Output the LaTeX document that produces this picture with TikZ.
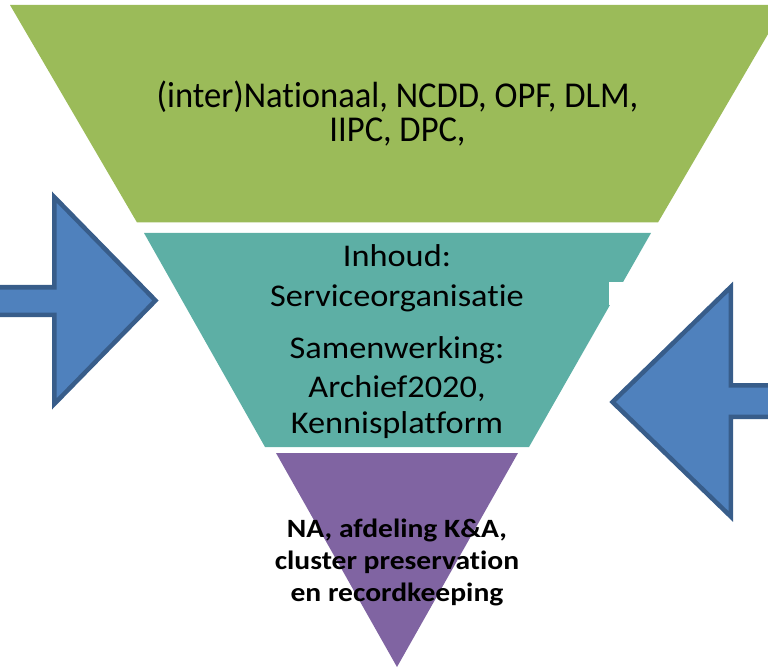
\documentclass[tikz,border=0pt]{standalone}
\usepackage{fontspec}
\setmainfont{Carlito}[Ligatures={NoCommon}]
\definecolor{lgreen}{HTML}{9BBB59}
\definecolor{lteal}{HTML}{5DAFA5}
\definecolor{lpurple}{HTML}{8064A2}
\definecolor{afill}{HTML}{4F81BD}
\definecolor{aline}{HTML}{385D8A}
\newcommand{\gtext}[1]{\scalebox{0.95}[1]{#1}}
\newcommand{\ttext}[1]{\scalebox{1.086}[1]{#1}}
\newcommand{\ptext}[1]{\scalebox{1.12}[1]{#1}}
\tikzset{
  arrowshape/.style={fill=afill, draw=aline, line width=4.5pt, line join=miter},
  txt/.style={anchor=base, inner sep=0pt, text=black},
  greentxt/.style={txt, font=\fontsize{36.4}{40}\selectfont},
  tealtxt/.style={txt, font=\fontsize{31.6}{34}\selectfont},
  purptxt/.style={txt, font=\fontsize{26.4}{32}\selectfont\bfseries},
}
\begin{document}
\begin{tikzpicture}[x=1pt, y=-1pt]
\useasboundingbox (0,0) rectangle (768,668);
\clip (0,0) rectangle (768,668);
% green trapezoid
\fill[lgreen] (10,5) -- (785,5) -- (658,222.5) -- (137,222.5) -- cycle;
% teal trapezoid
\fill[lteal] (144,233) -- (651,233) -- (529,447) -- (265,447) -- cycle;
\fill[white] (609,282) rectangle (632,305);
% purple triangle
\fill[lpurple] (276,453) -- (518,453) -- (397,667) -- cycle;
% left arrow
\draw[arrowshape] (-10,287.25) -- (54.25,287.25) -- (54.25,197) -- (155.5,300.5) -- (54.25,404) -- (54.25,314.75) -- (-10,314.75) -- cycle;
% right arrow
\draw[arrowshape] (780,385.25) -- (730.75,385.25) -- (730.75,287) -- (612.5,402) -- (730.75,516.5) -- (730.75,416.75) -- (780,416.75) -- cycle;
% texts
\node[greentxt] (g1) at (397.5,108) {\gtext{(inter)Nationaal, NCDD, OPF, DLM,}};
\node[greentxt] (g2) at (397.5,142) {\gtext{IIPC, DPC,}};
\node[tealtxt] (t1) at (397,267) {\ttext{Inhoud:}};
\node[tealtxt] (t2) at (397,306.5) {\ttext{Serviceorganisatie}};
\node[tealtxt] (t3) at (397,358) {\ttext{Samenwerking:}};
\node[tealtxt] (t4) at (397,397) {\ttext{Archief2020,}};
\node[tealtxt] (t5) at (397,433) {\ttext{Kennisplatform}};
\node[purptxt] (p1) at (397,537) {\ptext{NA, afdeling K\&A,}};
\node[purptxt] (p2) at (397,569) {\ptext{cluster preservation}};
\node[purptxt] (p3) at (397,601) {\ptext{en recordkeeping}};
\end{tikzpicture}
\end{document}
